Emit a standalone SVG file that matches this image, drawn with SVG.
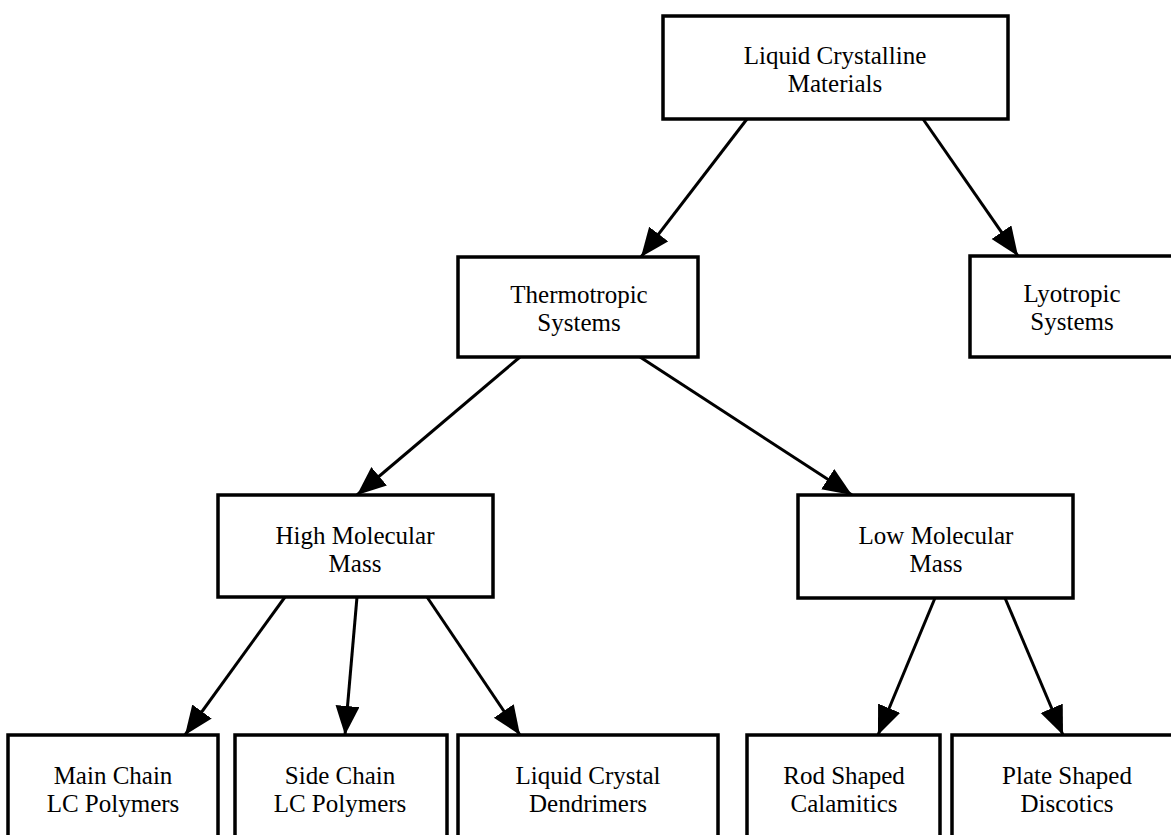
<svg xmlns="http://www.w3.org/2000/svg" width="1171" height="835" viewBox="0 0 1171 835">
<style>
.box{fill:#fff;stroke:#000;stroke-width:3.5}
.t{font-family:"Liberation Serif","Times New Roman",serif;font-size:25px;fill:#000;text-anchor:middle}
.c{stroke:#000;stroke-width:3;fill:none;marker-end:url(#ah)}
</style>
<defs>
<marker id="ah" markerUnits="userSpaceOnUse" markerWidth="32" markerHeight="26" refX="29" refY="12" orient="auto">
<path d="M0,0 L29,12 L0,24 z" fill="#000"/>
</marker>
</defs>
<rect width="1171" height="835" fill="#fff"/>
<g id="connectors">
<line class="c" x1="747" y1="119" x2="641" y2="257"/>
<line class="c" x1="923" y1="119" x2="1018" y2="256"/>
<line class="c" x1="520" y1="357" x2="357" y2="495"/>
<line class="c" x1="640" y1="357" x2="852" y2="495"/>
<line class="c" x1="285" y1="597" x2="185" y2="735"/>
<line class="c" x1="357" y1="597" x2="345" y2="735"/>
<line class="c" x1="427" y1="597" x2="520" y2="735"/>
<line class="c" x1="935" y1="598" x2="878" y2="735"/>
<line class="c" x1="1005" y1="598" x2="1063" y2="735"/>
</g>
<g id="n-lcm">
<rect class="box" x="663" y="16" width="345" height="103"/>
<text class="t" x="835" y="64">Liquid Crystalline</text>
<text class="t" x="835" y="92">Materials</text>
</g>
<g id="n-thermo">
<rect class="box" x="458" y="257" width="240" height="100"/>
<text class="t" x="579" y="303">Thermotropic</text>
<text class="t" x="579" y="331">Systems</text>
</g>
<g id="n-lyo">
<rect class="box" x="970" y="256" width="204" height="101"/>
<text class="t" x="1072" y="302">Lyotropic</text>
<text class="t" x="1072" y="330">Systems</text>
</g>
<g id="n-high">
<rect class="box" x="218" y="495" width="275" height="102"/>
<text class="t" x="355" y="544">High Molecular</text>
<text class="t" x="355" y="572">Mass</text>
</g>
<g id="n-low">
<rect class="box" x="798" y="495" width="275" height="103"/>
<text class="t" x="936" y="544">Low Molecular</text>
<text class="t" x="936" y="572">Mass</text>
</g>
<g id="n-main">
<rect class="box" x="8" y="735" width="210" height="110"/>
<text class="t" x="113" y="784">Main Chain</text>
<text class="t" x="113" y="812">LC Polymers</text>
</g>
<g id="n-side">
<rect class="box" x="235" y="735" width="212" height="110"/>
<text class="t" x="340" y="784">Side Chain</text>
<text class="t" x="340" y="812">LC Polymers</text>
</g>
<g id="n-dend">
<rect class="box" x="458" y="735" width="260" height="110"/>
<text class="t" x="588" y="784">Liquid Crystal</text>
<text class="t" x="588" y="812">Dendrimers</text>
</g>
<g id="n-rod">
<rect class="box" x="747" y="735" width="193" height="110"/>
<text class="t" x="844" y="784">Rod Shaped</text>
<text class="t" x="844" y="812">Calamitics</text>
</g>
<g id="n-plate">
<rect class="box" x="952" y="735" width="230" height="110"/>
<text class="t" x="1067" y="784">Plate Shaped</text>
<text class="t" x="1067" y="812">Discotics</text>
</g>
</svg>
